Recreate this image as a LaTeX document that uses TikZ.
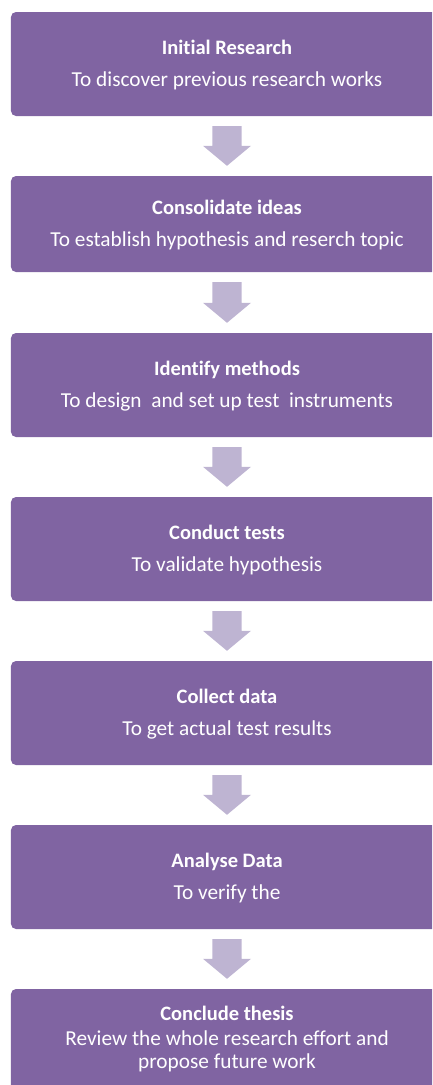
\documentclass[tikz,border=0pt]{standalone}
\usepackage{fontspec}
\setmainfont{Carlito}[Ligatures=NoCommon]
\usetikzlibrary{calc}

\definecolor{stepfill}{HTML}{8064A2}
\definecolor{arrowfill}{HTML}{BEB4D2}

\tikzset{
  stagebox/.style={fill=stepfill, draw=none, rounded corners=5bp,
    minimum width=432bp, inner sep=0pt},
  stagetitle/.style={anchor=base, text=white, inner sep=0pt,
    font=\fontsize{20.5bp}{22bp}\selectfont\bfseries},
  stagetext/.style={anchor=base, text=white, inner sep=0pt, align=center,
    font=\fontsize{21.3bp}{22.5bp}\selectfont},
  flowarrow/.style={fill=arrowfill, draw=none}
}

% block arrow from the bottom of one stage to the top of the next
\newcommand{\stagearrow}[2]{%
  \fill[flowarrow]
    ($(#1.south)+(-14.7,10)$) -- ($(#1.south)+(14.7,10)$)
    -- ($(#2.north)+(14.7,-30)$) -- ($(#2.north)+(24,-30)$)
    -- ($(#2.north)+(0,-10)$)
    -- ($(#2.north)+(-24,-30)$) -- ($(#2.north)+(-14.7,-30)$) -- cycle;}

\begin{document}
\begin{tikzpicture}[x=1bp, y=-1bp]
  \useasboundingbox (0,0) rectangle (432,1085);
  \clip (0,0) rectangle (432,1085);

  % stages
  \node[stagebox, minimum height=104bp] (b1) at (227,64) {};
  \node[stagebox, minimum height=96bp]  (b2) at (227,224) {};
  \node[stagebox, minimum height=104bp] (b3) at (227,385) {};
  \node[stagebox, minimum height=104bp] (b4) at (227,549) {};
  \node[stagebox, minimum height=104bp] (b5) at (227,713) {};
  \node[stagebox, minimum height=104bp] (b6) at (227,877) {};
  \node[stagebox, minimum height=110bp] (b7) at (227,1044) {};

  % texts
  \node[stagetitle] (t1) at (227,54)  {Initial Research};
  \node[stagetext]  (s1) at (227,86.7) {To discover previous research works};
  \node[stagetitle] (t2) at (227,214) {Consolidate ideas};
  \node[stagetext]  (s2) at (227,246.7) {To establish hypothesis and reserch topic};
  \node[stagetitle] (t3) at (227,375) {Identify methods};
  \node[stagetext]  (s3) at (227,407.7) {To design\ \ and set up test\ \ instruments};
  \node[stagetitle] (t4) at (227,539) {Conduct tests};
  \node[stagetext]  (s4) at (227,571.7) {To validate hypothesis};
  \node[stagetitle] (t5) at (227,703) {Collect data};
  \node[stagetext]  (s5) at (227,735.7) {To get actual test results};
  \node[stagetitle] (t6) at (227,867) {Analyse Data};
  \node[stagetext]  (s6) at (227,899.7) {To verify the};
  \node[stagetitle] (t7) at (227,1020) {Conclude thesis};
  % the base anchor of a two-line node sits on its last line
  \node[stagetext]  (s7) at (227,1068) {Review the whole research effort and\\propose future work};

  % connectors
  \stagearrow{b1}{b2}
  \stagearrow{b2}{b3}
  \stagearrow{b3}{b4}
  \stagearrow{b4}{b5}
  \stagearrow{b5}{b6}
  \stagearrow{b6}{b7}
\end{tikzpicture}
\end{document}
